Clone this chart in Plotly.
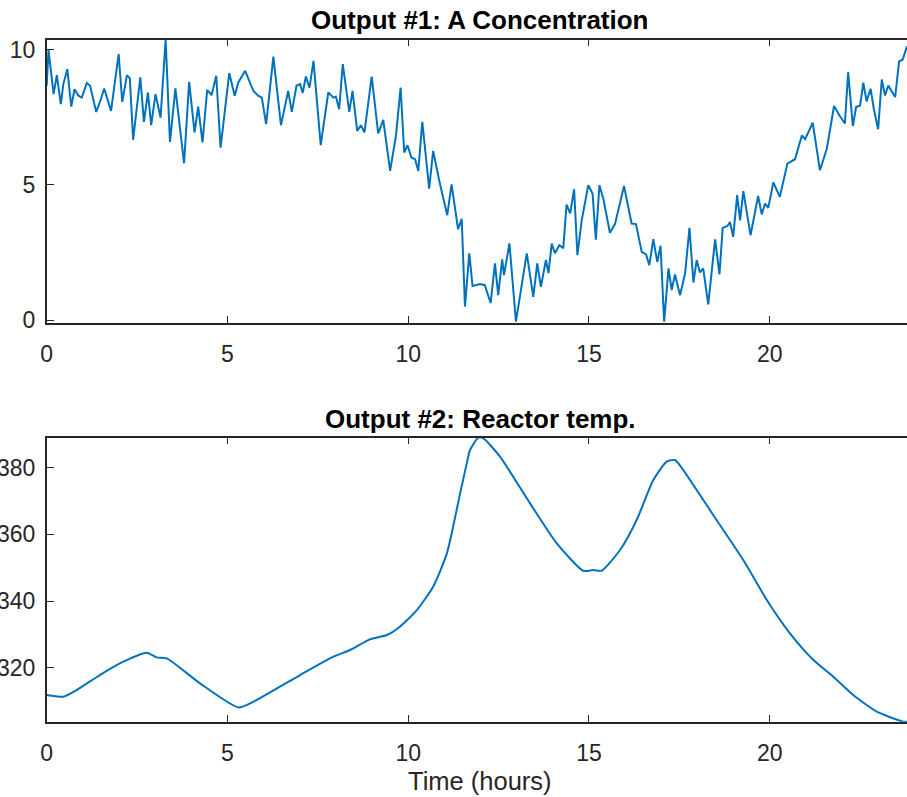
import plotly.graph_objects as go

# Output #1: A Concentration (noisy measurement)
t_conc = [0.00, 0.05, 0.19, 0.28, 0.39, 0.46, 0.57, 0.68, 0.77, 0.88, 0.97, 1.11, 1.20, 1.37, 1.50,
          1.59, 1.78, 1.99, 2.09, 2.22, 2.30, 2.39, 2.59, 2.69, 2.80, 2.89, 3.01, 3.15, 3.29, 3.41,
          3.56, 3.80, 3.94, 4.09, 4.19, 4.31, 4.44, 4.56, 4.69, 4.81, 5.05, 5.20, 5.30, 5.49, 5.65,
          5.72, 5.85, 5.95, 6.07, 6.27, 6.48, 6.68, 6.78, 6.91, 7.01, 7.08, 7.17, 7.27, 7.38, 7.58,
          7.79, 7.93, 8.00, 8.09, 8.19, 8.37, 8.46, 8.59, 8.69, 8.79, 8.99, 9.17, 9.31, 9.50, 9.66,
          9.79, 9.89, 9.98, 10.09, 10.19, 10.28, 10.39, 10.58, 10.69, 10.86, 11.08, 11.20, 11.38, 11.48,
          11.57, 11.69, 11.78, 11.99, 12.12, 12.28, 12.40, 12.49, 12.60, 12.65, 12.80, 12.98, 13.28,
          13.46, 13.57, 13.67, 13.81, 13.88, 13.97, 14.06, 14.18, 14.29, 14.38, 14.48, 14.59, 14.68,
          14.80, 14.98, 15.10, 15.19, 15.29, 15.40, 15.58, 15.72, 15.84, 15.97, 16.18, 16.30, 16.46,
          16.58, 16.67, 16.78, 16.89, 16.98, 17.08, 17.20, 17.29, 17.38, 17.52, 17.66, 17.78, 17.89,
          17.98, 18.07, 18.16, 18.30, 18.49, 18.61, 18.70, 18.83, 18.90, 18.99, 19.10, 19.18, 19.27,
          19.47, 19.68, 19.78, 19.87, 19.96, 20.10, 20.28, 20.49, 20.70, 20.89, 20.98, 21.19, 21.39,
          21.58, 21.78, 21.93, 22.08, 22.17, 22.30, 22.39, 22.50, 22.59, 22.68, 22.79, 22.88, 23.00,
          23.10, 23.19, 23.28, 23.47, 23.58, 23.68, 23.79, 24.00]
conc = [8.67, 10.00, 8.36, 9.06, 7.99, 8.73, 9.28, 7.90, 8.54, 8.30, 8.23, 8.77, 8.67, 7.70, 8.17,
        8.57, 7.74, 9.84, 8.07, 9.06, 8.94, 6.67, 8.98, 7.33, 8.42, 7.21, 8.36, 7.49, 10.38, 6.59,
        8.57, 5.80, 8.81, 6.94, 7.90, 6.57, 8.52, 8.32, 9.04, 6.38, 9.14, 8.30, 8.79, 9.22, 8.69,
        8.48, 8.30, 8.23, 7.25, 9.75, 7.21, 8.48, 7.70, 8.67, 8.73, 8.40, 9.01, 8.60, 9.59, 6.47,
        8.42, 8.23, 8.27, 7.80, 9.47, 7.70, 8.48, 7.00, 7.21, 6.94, 9.01, 6.91, 7.41, 5.52, 6.81,
        8.60, 6.20, 6.47, 6.01, 5.95, 5.52, 7.33, 4.86, 6.26, 5.15, 3.88, 5.02, 3.36, 3.75,
        0.50, 2.47, 1.26, 1.33, 1.29, 0.63, 2.10, 0.92, 2.25, 1.66, 2.84, -0.06, 2.47,
        0.86, 2.10, 1.23, 2.22, 1.74, 2.83, 2.47, 2.77, 2.66, 4.27, 3.95, 4.84, 2.40,
        3.69, 4.99, 4.68, 2.97, 4.99, 4.47, 3.23, 3.55, 4.25, 4.96, 3.57, 3.55, 2.52,
        2.43, 2.03, 2.99, 2.15, 2.75, -0.06, 1.91, 1.11, 1.69, 0.92, 1.73, 3.41, 1.39,
        2.22, 1.76, 1.91, 0.58, 2.99, 1.69, 3.41, 3.48, 3.63, 3.08, 4.62, 3.69, 4.77,
        3.14, 4.59, 3.91, 4.31, 4.15, 5.09, 4.56, 5.79, 5.95, 6.83, 6.69, 7.30, 5.54,
        6.34, 7.92, 7.57, 7.27, 9.17, 7.18, 7.88, 7.94, 8.78, 8.09, 8.56, 7.82, 7.06,
        8.90, 8.31, 8.68, 8.25, 9.57, 9.64, 10.10, 10.30]

# Output #2: Reactor temp.
t_temp = [0.00, 0.46, 0.83, 1.47, 2.12, 2.77, 3.04, 3.32, 4.24, 5.30, 5.72, 7.01, 7.93, 8.39, 8.94,
          9.41, 9.77, 10.24, 10.69, 11.07, 11.34, 11.43, 11.62, 11.71, 11.94, 12.08, 12.54, 13.37,
          14.11, 14.84, 15.12, 15.35, 15.86, 16.32, 16.78, 17.15, 17.38, 17.61, 18.53, 19.27, 19.92,
          20.56, 21.21, 21.76, 22.31, 22.96, 23.42, 23.70, 24.00]
temp = [311.8, 311.3, 313.3, 317.8, 321.8, 324.5, 323.1, 322.8, 315.3, 308.1, 309.8, 317.8, 323.3,
        325.3, 328.5, 329.8, 332.3, 337.3, 344.3, 354.3, 367.3, 372.0, 381.3, 385.3, 389.0, 388.8,
        383.3, 369.3, 357.3, 349.1, 349.3, 349.1, 355.3, 364.3, 376.3, 381.8, 382.3, 379.3, 364.3,
        352.3, 340.3, 330.3, 322.3, 317.3, 311.8, 306.8, 304.8, 303.8, 303.8]

x_ticks = [0, 5, 10, 15, 20]
conc_ticks = [0, 5, 10]
temp_ticks = [320, 340, 360, 380]
titles = ["Output #1: A Concentration", "Output #2: Reactor temp."]
x_label = "Time (hours)"

W, H = 907, 797
LINE = "#0072BD"
AX = "#262626"
FONT = "Liberation Sans, Arial, Helvetica, sans-serif"

fig = go.Figure()
fig.add_trace(go.Scatter(x=t_conc, y=conc, mode="lines", line=dict(color=LINE, width=2),
                         xaxis="x", yaxis="y", showlegend=False))
fig.add_trace(go.Scatter(x=t_temp, y=temp, mode="lines",
                         line=dict(color=LINE, width=2, shape="spline", smoothing=0.6),
                         xaxis="x2", yaxis="y2", showlegend=False))

left = 46.7 / W
xr = [0, (W - 46.7) / 36.15]
common_x = dict(range=xr, domain=[left, 1], tickvals=x_ticks, ticks="inside", ticklen=7,
                tickcolor=AX, tickwidth=1.3, showline=True, linecolor=AX, linewidth=1.5,
                mirror="ticks", showgrid=False, zeroline=False, automargin=False,
                tickfont=dict(family=FONT, size=23, color=AX), ticklabelstandoff=10)
common_y = dict(ticks="inside", ticklen=8, tickcolor=AX, tickwidth=1.3, showline=True,
                linecolor=AX, linewidth=1.5, showgrid=False, zeroline=False, automargin=False,
                tickfont=dict(family=FONT, size=23, color=AX), ticklabelstandoff=5)

fig.update_layout(
    width=W, height=H, margin=dict(l=0, r=0, t=0, b=0, autoexpand=False),
    paper_bgcolor="white", plot_bgcolor="white",
    xaxis=dict(anchor="y", **common_x),
    yaxis=dict(anchor="x", domain=[1 - 322.5 / H, 1 - 39.5 / H], range=[-0.09, 10.38],
               tickvals=conc_ticks, **common_y),
    xaxis2=dict(anchor="y2", **common_x),
    yaxis2=dict(anchor="x2", domain=[1 - 721.7 / H, 1 - 437.7 / H], range=[303.8, 389.0],
                tickvals=temp_ticks, **common_y),
    annotations=[
        dict(text="<b>%s</b>" % titles[0], x=480.5 / W, y=1 - 20 / H, xref="paper", yref="paper",
             showarrow=False, xanchor="center", yanchor="middle",
             font=dict(family=FONT, size=26, color="#000000")),
        dict(text="<b>%s</b>" % titles[1], x=480.5 / W, y=1 - 419 / H, xref="paper", yref="paper",
             showarrow=False, xanchor="center", yanchor="middle",
             font=dict(family=FONT, size=26, color="#000000")),
        dict(text=x_label, x=480.5 / W, y=1 - 781 / H, xref="paper", yref="paper",
             showarrow=False, xanchor="center", yanchor="middle",
             font=dict(family=FONT, size=25.5, color=AX)),
    ],
)

fig.write_html("out.html", config={"displayModeBar": False},
               post_script="document.body.style.margin='0';document.body.style.overflow='hidden';")
